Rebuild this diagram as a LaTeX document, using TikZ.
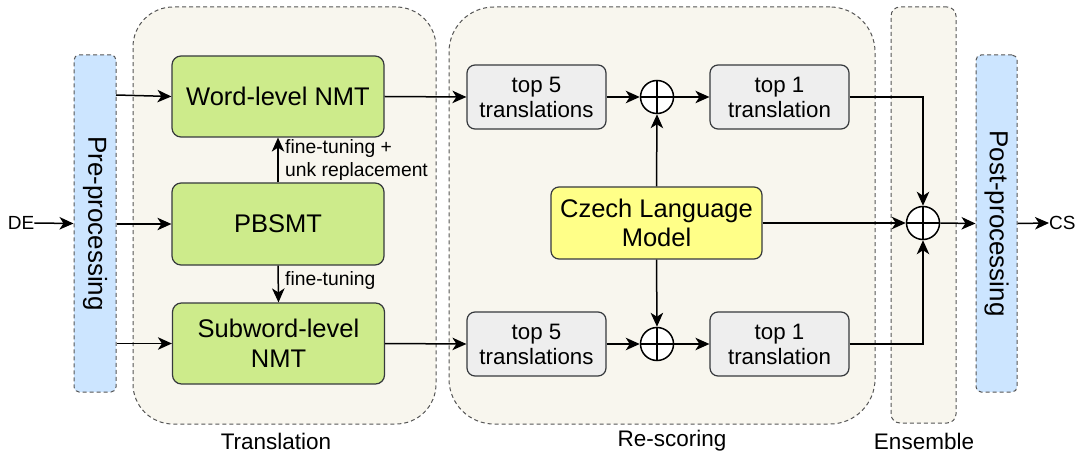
\documentclass[tikz,border=0pt]{standalone}
\usepackage{fontspec}
\setmainfont{Liberation Sans}
\usetikzlibrary{arrows.meta}
\definecolor{grpfill}{HTML}{F8F6EE}
\definecolor{grpline}{HTML}{555555}
\definecolor{greenfill}{HTML}{CDEB8B}
\definecolor{boxline}{HTML}{36393D}
\definecolor{grayfill}{HTML}{EEEEEE}
\definecolor{yellowfill}{HTML}{FFFF88}
\definecolor{bluefill}{HTML}{CCE5FF}
\tikzset{
  grp/.style={draw=grpline, fill=grpfill, dashed, dash pattern=on 4pt off 3pt, line width=1pt, inner sep=0pt},
  procbox/.style={draw=grpline, fill=bluefill, dash pattern=on 4pt off 3pt, line width=1pt, rounded corners=5pt, inner sep=0pt, minimum width=42, minimum height=337},
  greenbox/.style={draw=boxline, fill=greenfill, line width=1.2pt, rounded corners=9pt, minimum width=212, minimum height=81, align=center, font=\fontsize{25.5}{30}\selectfont},
  graybox/.style={draw=boxline, fill=grayfill, line width=1.2pt, rounded corners=8pt, minimum width=139, minimum height=64, align=center, font=\fontsize{22.3}{25}\selectfont},
  lmbox/.style={draw=boxline, fill=yellowfill, line width=1.2pt, rounded corners=8pt, minimum width=211, minimum height=72, align=center, font=\fontsize{25.5}{29}\selectfont},
  plusnode/.style={circle, draw=black, fill=white, line width=1.5pt, minimum size=33, inner sep=0pt,
    path picture={\draw[line width=1.5pt] (path picture bounding box.north) -- (path picture bounding box.south) (path picture bounding box.west) -- (path picture bounding box.east);}},
  arr/.style={-{Stealth[length=14pt,width=12.5pt,inset=4pt]}, line width=1.5pt},
  lbl/.style={font=\fontsize{22.5}{26}\selectfont, inner sep=0pt},
  small/.style={font=\fontsize{19.3}{23}\selectfont, inner sep=0pt, align=left}
}
\begin{document}
\begin{tikzpicture}[x=1pt,y=-1pt]
\useasboundingbox (0,0) rectangle (1078,454);
% groups
\node[grp, rounded corners=40pt, minimum width=303, minimum height=417] (gtrans) at (284.5,215.5) {};
\node[grp, rounded corners=45pt, minimum width=426, minimum height=417] (gresc) at (662,215.5) {};
\node[grp, rounded corners=9pt, minimum width=65, minimum height=416] (gens) at (923.5,215) {};
\node[lbl] (ltrans) at (276,441) {Translation};
\node[lbl] (lresc) at (672,441) {Re-scoring};
\node[lbl] (lens) at (924,441) {Ensemble};
% pre / post
\node[procbox] (pre) at (95,223.5) {};
\node[rotate=-90, font=\fontsize{26}{30}\selectfont] (pretext) at (95,223.5) {Pre-processing};
\node[procbox, minimum width=41] (post) at (996.5,223.5) {};
\node[rotate=-90, font=\fontsize{26}{30}\selectfont] (posttext) at (996.5,223.5) {Post-processing};
\node[lbl, font=\fontsize{19}{23}\selectfont] (de) at (21,223) {DE};
\node[lbl, font=\fontsize{19}{23}\selectfont, anchor=west] (cs) at (1049,223) {CS};
% translation boxes
\node[greenbox] (word) at (278,96.5) {Word-level NMT};
\node[greenbox, minimum height=82] (pb) at (278,224) {PBSMT};
\node[greenbox] (sub) at (278.5,343.5) {Subword-level\\NMT};
% rescoring
\node[graybox] (t5a) at (536.5,97) {top 5\\translations};
\node[graybox] (t5b) at (536.5,344) {top 5\\translations};
\node[graybox] (t1a) at (779.5,97) {top 1\\translation};
\node[graybox] (t1b) at (779.5,344) {top 1\\translation};
\node[plusnode] (pa) at (657,97) {};
\node[plusnode] (pb2) at (657,344) {};
\node[lmbox] (lm) at (656.5,223) {Czech Language\\Model};
\node[plusnode] (pe) at (923,223) {};
% connectors
\coordinate (prew) at (116,95);
\draw[arr] (de.east) -- (pre.west);
\draw[arr] (prew) -- (word.west);
\draw[arr] (pre.east |- pb.west) -- (pb.west);
\draw[arr] (pre.east |- sub.west) -- (sub.west);
\draw[arr] (pb.north) -- (word.south);
\draw[arr] (pb.south) -- (sub.north);
\node[small, anchor=west] (ft1) at (285,160.5) {fine-tuning +\\unk replacement};
\node[small, anchor=west] (ft2) at (285,281) {fine-tuning};
\draw[arr] (word.east) -- (t5a.west);
\draw[arr] (sub.east) -- (t5b.west);
\draw[arr] (t5a.east) -- (pa.west);
\draw[arr] (t5b.east) -- (pb2.west);
\draw[arr] (pa.east) -- (t1a.west);
\draw[arr] (pb2.east) -- (t1b.west);
\draw[arr] (lm.north) -- (pa.south);
\draw[arr] (lm.south) -- (pb2.north);
\draw[arr] (t1a.east) -| (pe.north);
\draw[arr] (t1b.east) -| (pe.south);
\draw[arr] (lm.east) -- (pe.west);
\draw[arr] (pe.east) -- (post.west);
\draw[arr] (post.east) -- (cs.west);
\end{tikzpicture}
\end{document}
